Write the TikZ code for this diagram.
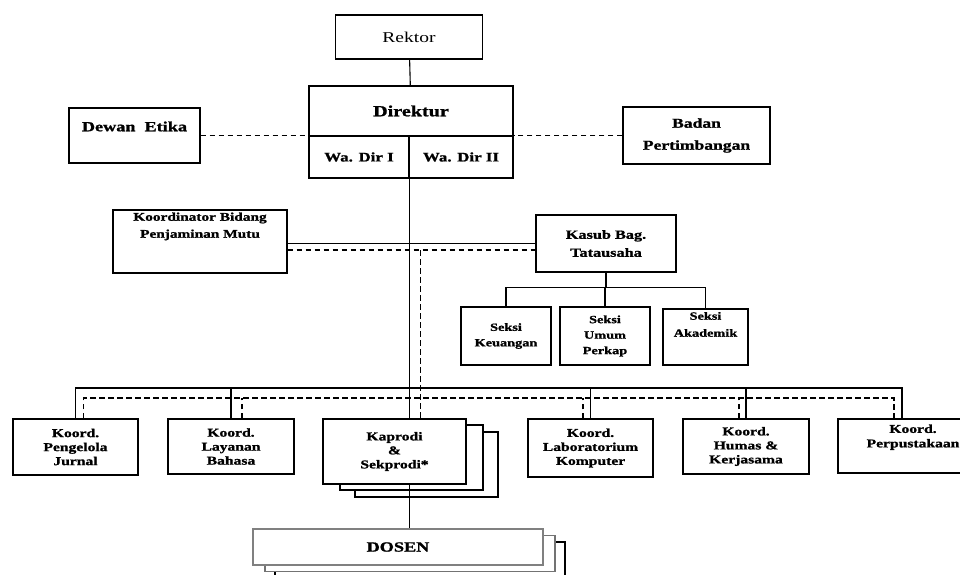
\documentclass[tikz,border=0pt]{standalone}
\usepackage{fontspec}
\setmainfont{Liberation Serif}[FakeStretch=1.3,BoldFeatures={FakeBold=1.2}]
\usepackage{tikz}
\usetikzlibrary{calc,shadows,positioning}

\begin{document}
\begin{tikzpicture}[x=1pt,y=-1pt,
  box/.style={draw,line width=1.3pt,fill=white,inner sep=1pt,align=center,
    font=\fontsize{12.5}{14}\selectfont\bfseries},
  toptext/.style={anchor=north,inner sep=0pt,align=center,
    font=\fontsize{12.5}{14}\selectfont\bfseries},
  koord/.style={box,font=\fontsize{12}{14}\selectfont\bfseries},
  seksi/.style={box,minimum width=90,minimum height=58,
    font=\fontsize{11}{15.5}\selectfont\bfseries},
  link/.style={line width=1.1pt},
  dashlink/.style={line width=1.1pt,dash pattern=on 5.5pt off 3.5pt}]
\useasboundingbox (0,0) rectangle (960,574);

% pimpinan
\node[box,font=\fontsize{15}{17}\selectfont,minimum width=147,minimum height=44] (rektor) at (409,37) {Rektor};
\node[box,font=\fontsize{15.5}{18}\selectfont\bfseries,minimum width=204,minimum height=50] (dir) at (411,111) {Direktur};
\node[box,font=\fontsize{13}{15}\selectfont\bfseries,minimum width=100,minimum height=42] (wadir1) at (359,157) {Wa. Dir I};
\node[box,font=\fontsize{13}{15}\selectfont\bfseries,minimum width=104,minimum height=42] (wadir2) at (461,157) {Wa. Dir II};
\node[box,minimum width=131,minimum height=55,
  label={[toptext,yshift=-14pt,font=\fontsize{14}{16}\selectfont\bfseries]north:Dewan\ \ Etika}] (etika) at (134.5,135.5) {};
\node[box,font=\fontsize{13.5}{22}\selectfont\bfseries,minimum width=147,minimum height=57] (badan) at (696.5,135.5) {Badan\\Pertimbangan};

% tengah
\node[box,minimum width=174,minimum height=63,
  label={[toptext,yshift=-3pt,font=\fontsize{11.8}{17}\selectfont\bfseries]north:{Koordinator Bidang\\Penjaminan Mutu}}] (koor) at (200,241.5) {};
\node[box,font=\fontsize{12.5}{18}\selectfont\bfseries,minimum width=140,minimum height=57] (kasub) at (606,243.5) {Kasub Bag.\\Tatausaha};
\node[seksi] (keu) at (506,336) {Seksi\\Keuangan};
\node[seksi] (umum) at (605,336) {Seksi\\Umum\\Perkap};
\node[seksi,minimum width=85,minimum height=56,
  label={[toptext,yshift=-3.5pt,font=\fontsize{11}{17}\selectfont\bfseries]north:{Seksi\\Akademik}}] (aka) at (705.5,337) {};

% koordinator & prodi
\node[koord,minimum width=125,minimum height=56] (peng) at (75.5,447) {Koord.\\Pengelola\\Jurnal};
\node[koord,minimum width=126,minimum height=55] (layan) at (231,446.5) {Koord.\\Layanan\\Bahasa};
\node[koord,minimum width=143,minimum height=65,
  copy shadow={shadow xshift=32pt,shadow yshift=-13pt},
  copy shadow={shadow xshift=17pt,shadow yshift=-6pt}] (kaprodi) at (394.5,451.5) {Kaprodi\\\&\\Sekprodi*};
\node[koord,minimum width=125,minimum height=58] (lab) at (590.5,448) {Koord.\\Laboratorium\\Komputer};
\node[koord,minimum width=126,minimum height=55] (humas) at (746,446.5) {Koord.\\Humas \&\\Kerjasama};
\node[box,minimum width=150,minimum height=54,
  label={[toptext,yshift=-6pt,font=\fontsize{12}{14.5}\selectfont\bfseries]north:{Koord.\\Perpustakaan}}] (perpus) at (913,446) {};
\node[box,draw=black!50,line width=1.6pt,minimum width=290,minimum height=36,
  font=\fontsize{14}{16}\selectfont\bfseries,
  copy shadow={shadow xshift=22pt,shadow yshift=-13pt,draw=black,line width=1.1pt},
  copy shadow={shadow xshift=12pt,shadow yshift=-6.5pt,draw=black!55}] (dosen) at (398,547) {DOSEN};

% garis
\draw[link] (rektor) -- (dir);
\draw[link] (wadir1.south east) -- (wadir1.south east |- kaprodi.north);
\draw[dashlink] (etika.east) -- (etika.east -| dir.west);
\draw[dashlink] (badan.west) -- (badan.west -| dir.east);

\draw[link] (koor.east |- kasub.west) -- (kasub.west);
\coordinate (dk) at ($(kasub.west)+(0,6.5)$);
\draw[dashlink] (koor.east |- dk) -- (dk);
\coordinate (dtop) at ($(dk -| wadir1.south east)+(10.5,0)$);
\draw[dashlink] (dtop) -- (dtop |- kaprodi.north);

\coordinate (sbus) at ($(kasub.south)+(0,15)$);
\draw[link] (kasub.south) -- (sbus);
\draw[link] (keu.north) |- (sbus) -| (aka.north);
\draw[link] (umum.north) -- (umum.north |- sbus);

\coordinate (bus) at (0,388);
\coordinate (dbus) at (0,398);
\draw[link] (peng.north) |- ([xshift=-11pt]perpus.north |- bus) -- ([xshift=-11pt]perpus.north);
\foreach \n in {layan,lab,humas}
  \draw[link] (\n.north) -- (\n.north |- bus);
\draw[dashlink] ([xshift=8pt]peng.north) |- ([xshift=-19pt]perpus.north |- dbus) -- ([xshift=-19pt]perpus.north);
\draw[dashlink] ([xshift=11pt]layan.north) -- ([xshift=11pt]layan.north |- dbus);
\draw[dashlink] ([xshift=-7.5pt]lab.north) -- ([xshift=-7.5pt]lab.north |- dbus);
\draw[dashlink] ([xshift=-7pt]humas.north) -- ([xshift=-7pt]humas.north |- dbus);

\draw[link] (wadir1.south east |- kaprodi.south) -- (wadir1.south east |- dosen.north);
\end{tikzpicture}
\end{document}
